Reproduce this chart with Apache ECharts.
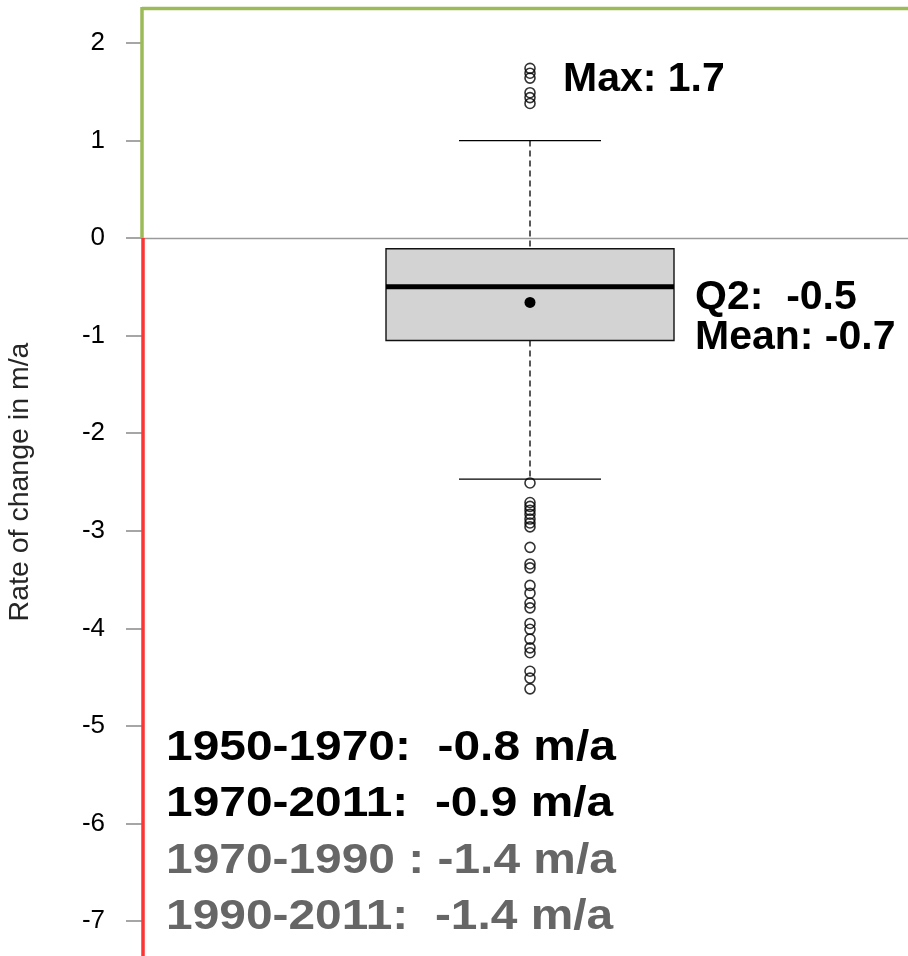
<!DOCTYPE html>
<html>
<head>
<meta charset="utf-8">
<script src="https://cdn.jsdelivr.net/npm/echarts@6/dist/echarts.min.js"></script>
<style>
html,body{margin:0;padding:0;background:#fff;}
#chart{width:908px;height:956px;}
</style>
</head>
<body>
<div id="chart"></div>
<script>
// ---- data ----
const categories = ['Rate of change'];
// [lower whisker, Q1, median, Q3, upper whisker]
const boxValues = [-2.47, -1.05, -0.50, -0.11, 1.0];
const meanValue = -0.66;
const upperOutliers = [1.74, 1.69, 1.64, 1.49, 1.44, 1.38];
const lowerOutliers = [-2.51, -2.71, -2.75, -2.79, -2.83, -2.88, -2.92, -2.96, -3.17, -3.34, -3.38,
  -3.56, -3.64, -3.74, -3.79, -3.95, -4.01, -4.11, -4.20, -4.25, -4.44, -4.51, -4.62];
const yTickMin = -8, yTickMax = 3, yTickStep = 1;
const annotMax = 'Max: 1.7';
const annotQ2 = 'Q2:  -0.5';
const annotMean = 'Mean: -0.7';
const periodTexts = ['1950-1970:  -0.8 m/a', '1970-2011:  -0.9 m/a', '1970-1990 : -1.4 m/a', '1990-2011:  -1.4 m/a'];
const yAxisName = 'Rate of change in m/a';

const FONT = '"Liberation Sans", Arial, Helvetica, sans-serif';
const chart = echarts.init(document.getElementById('chart'), null, {renderer: 'canvas'});

const outlierData = upperOutliers.concat(lowerOutliers).map(v => [0, v]);

const option = {
  animation: false,
  backgroundColor: '#ffffff',
  grid: {left: 142, right: -10, top: -54.6, bottom: -62.6, containLabel: false, outerBoundsMode: 'none'},
  xAxis: {
    type: 'category', data: categories, boundaryGap: true,
    axisLine: {show: false}, axisTick: {show: false}, axisLabel: {show: false}, splitLine: {show: false}
  },
  yAxis: {
    type: 'value', min: yTickMin, max: yTickMax, interval: yTickStep,
    axisLine: {show: false},
    axisTick: {show: true, length: 16, lineStyle: {color: '#a6a6a6', width: 2}},
    axisLabel: {show: true, margin: 37, fontFamily: FONT, fontSize: 26, color: '#000'},
    splitLine: {show: false},
    name: yAxisName, nameLocation: 'middle', nameRotate: 90, nameGap: 107,
    nameTextStyle: {fontFamily: FONT, fontSize: 28.5, color: '#262626'}
  },
  series: [
    {
      type: 'custom',
      data: [[0].concat(boxValues).concat([meanValue])],
      encode: {x: 0, y: [1, 2, 3, 4, 5, 6]},
      z: 3,
      renderItem: function (params, api) {
        const cx = api.coord([api.value(0), 0])[0];
        const y = i => api.coord([api.value(0), api.value(i)])[1];
        const lw = y(1), q1 = y(2), med = y(3), q3 = y(4), uw = y(5), mean = y(6);
        const half = 144, cap = 71;
        return {
          type: 'group',
          children: [
            {type: 'line', shape: {x1: cx, y1: uw, x2: cx, y2: q3}, style: {stroke: '#000', lineWidth: 1.3, lineDash: [6, 4]}},
            {type: 'line', shape: {x1: cx, y1: q1, x2: cx, y2: lw}, style: {stroke: '#000', lineWidth: 1.3, lineDash: [6, 4]}},
            {type: 'line', shape: {x1: cx - cap, y1: uw, x2: cx + cap, y2: uw}, style: {stroke: '#000', lineWidth: 1.3}},
            {type: 'line', shape: {x1: cx - cap, y1: lw, x2: cx + cap, y2: lw}, style: {stroke: '#000', lineWidth: 1.3}},
            {type: 'rect', shape: {x: cx - half, y: q3, width: half * 2, height: q1 - q3}, style: {fill: '#d3d3d3', stroke: '#111', lineWidth: 1.4}},
            {type: 'line', shape: {x1: cx - half, y1: med, x2: cx + half, y2: med}, style: {stroke: '#000', lineWidth: 5}},
            {type: 'circle', shape: {cx: cx, cy: mean, r: 5.5}, style: {fill: '#000'}}
          ]
        };
      },
      markLine: {
        silent: true, symbol: 'none', label: {show: false},
        lineStyle: {color: '#9a9a9a', width: 1.3, type: 'solid'},
        data: [{yAxis: 0}]
      }
    },
    {
      type: 'scatter',
      data: outlierData,
      symbol: 'circle', symbolSize: 10,
      itemStyle: {color: 'rgba(255,255,255,0)', borderColor: '#000', borderWidth: 1.6},
      z: 4
    }
  ]
};
chart.setOption(option);

const zeroY = chart.convertToPixel({yAxisIndex: 0}, 0);
const axisX = 142;
const g = [
  {type: 'line', shape: {x1: axisX, y1: 8.5, x2: 908, y2: 8.5}, style: {stroke: '#9bbb59', lineWidth: 3.5}, z: 10},
  {type: 'line', shape: {x1: axisX, y1: 7, x2: axisX, y2: zeroY}, style: {stroke: '#9bbb59', lineWidth: 3.5}, z: 10},
  {type: 'line', shape: {x1: axisX + 1, y1: zeroY, x2: axisX + 1, y2: 956}, style: {stroke: '#ff3333', lineWidth: 3.5}, z: 10},
  {type: 'text', x: 563, y: 80, style: {text: annotMax, font: 'bold 41px ' + FONT, fill: '#000', verticalAlign: 'middle'}, z: 10},
  {type: 'text', x: 695, y: 298, style: {text: annotQ2, font: 'bold 41px ' + FONT, fill: '#000', verticalAlign: 'middle'}, z: 10},
  {type: 'text', x: 695, y: 338, style: {text: annotMean, font: 'bold 41px ' + FONT, fill: '#000', verticalAlign: 'middle'}, z: 10}
];
const periodY = [748, 804, 861, 917];
const periodColors = ['#000', '#000', '#666', '#666'];
periodTexts.forEach((t, i) => {
  g.push({type: 'text', x: 166, y: periodY[i], scaleX: 1.14, style: {text: t, font: 'bold 42px ' + FONT, fill: periodColors[i], verticalAlign: 'middle'}, z: 10});
});
chart.setOption({graphic: g});
</script>
</body>
</html>
